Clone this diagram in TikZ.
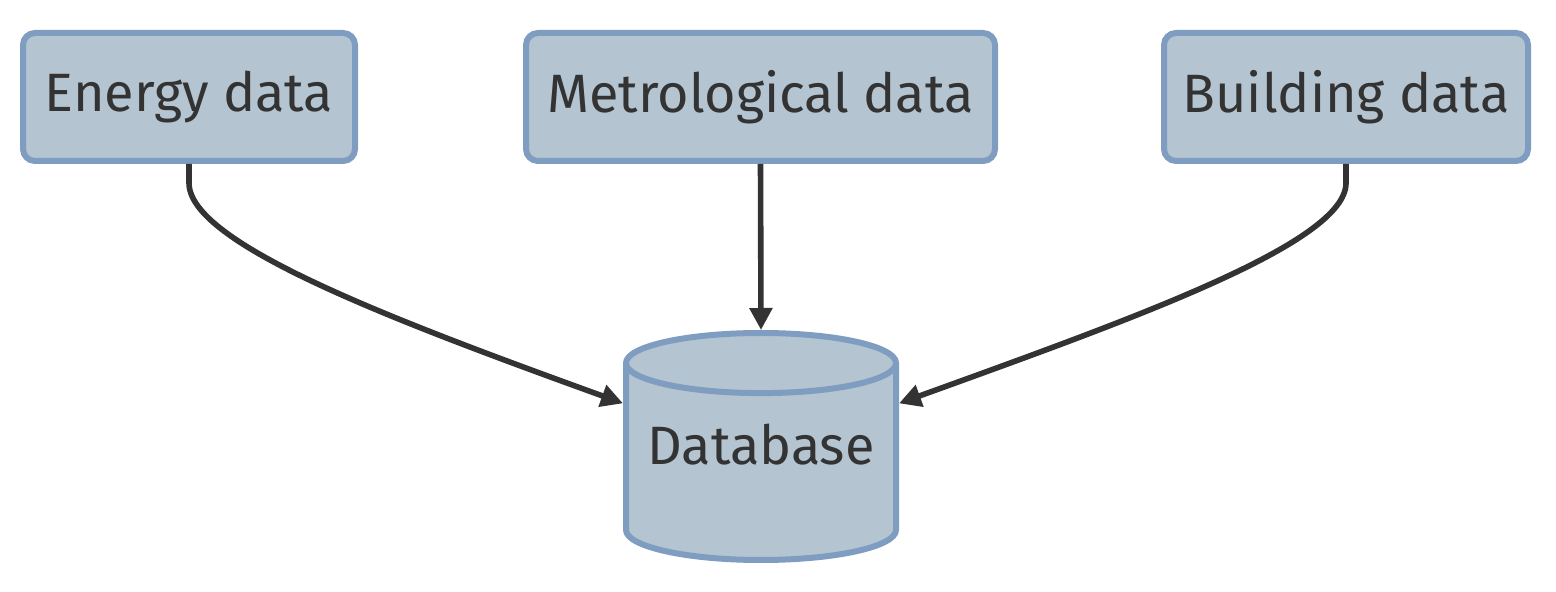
\documentclass[tikz,border=0pt]{standalone}
\usepackage{fontspec}
\setmainfont{Fira Sans}
\usetikzlibrary{arrows.meta,shapes.geometric}
\definecolor{boxfill}{HTML}{B4C4D0}
\definecolor{boxline}{HTML}{7F9DC0}
\definecolor{ink}{HTML}{333333}
\tikzset{
  databox/.style={draw=boxline, fill=boxfill, line width=3pt, rounded corners=6pt,
    minimum height=64pt, text=ink, font=\fontsize{27}{32}\selectfont},
  datastore/.style={cylinder, shape border rotate=90, aspect=0.25, draw=boxline,
    fill=boxfill, line width=3pt, minimum width=135pt, minimum height=113.5pt,
    text depth=23pt, text=ink, font=\fontsize{27}{32}\selectfont},
  feed/.style={draw=ink, line width=2.8pt, -{Triangle[length=11pt,width=11pt]}}
}
\begin{document}
\begin{tikzpicture}[x=0.5pt,y=-0.5pt]
  \useasboundingbox (0,0) rectangle (1556,592);

  %% sources
  \node[databox, minimum width=166pt] (energy) at (189,97) {Energy data};
  \node[databox, minimum width=234.5pt] (metro) at (760.5,97) {Metrological data};
  \node[databox, minimum width=182pt] (building) at (1346,97) {Building data};

  %% store
  \node[datastore, anchor=north] (db) at (761,330) {Database};

  %% feeds
  \draw[feed] (energy.south) -- ++(0,19) .. controls +(0,60) and +(-235,-85) .. (db.155);
  \draw[feed] (metro.south) -- (db.north);
  \draw[feed] (building.south) -- ++(0,19) .. controls +(0,60) and +(235,-85) .. (db.25);
\end{tikzpicture}
\end{document}
